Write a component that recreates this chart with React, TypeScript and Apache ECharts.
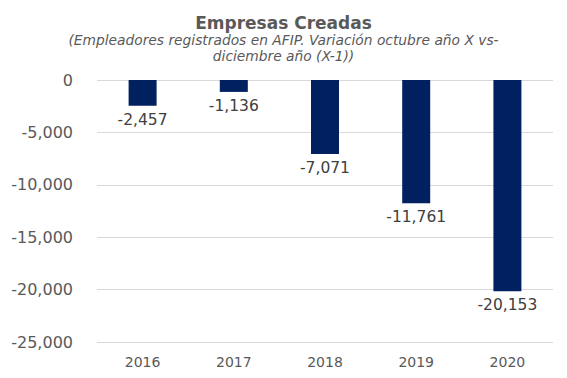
import React, { useEffect, useRef } from "react";
import * as echarts from "echarts";

const categories = ["2016", "2017", "2018", "2019", "2020"];
const values = [-2457, -1136, -7071, -11761, -20153];
const titleText = "Empresas Creadas";
const subtitleText = "(Empleadores registrados en AFIP. Variación octubre año X vs-\ndiciembre año (X-1))";

const fmt = (v: number) => v.toLocaleString("en-US");

export default function App() {
  const ref = useRef<HTMLDivElement>(null);
  useEffect(() => {
    if (!ref.current) return;
    const chart = echarts.init(ref.current, null, { renderer: "svg" });
    const font = "'DejaVu Sans', sans-serif";
    chart.setOption({
      animation: false,
      backgroundColor: "#ffffff",
      title: {
        text: titleText,
        subtext: subtitleText,
        left: "center",
        top: 9,
        itemGap: 1,
        textStyle: { fontFamily: font, fontSize: 17, fontWeight: "bold", color: "#595959" },
        subtextStyle: { fontFamily: font, fontSize: 13.8, fontStyle: "italic", color: "#595959", lineHeight: 16 },
      },
      grid: { left: 97, right: 14, top: 80, bottom: 36 },
      xAxis: {
        type: "category",
        data: categories,
        position: "bottom",
        axisLine: { show: false },
        axisTick: { show: false },
        axisLabel: { fontFamily: font, fontSize: 14, color: "#595959", margin: 13 },
      },
      yAxis: {
        type: "value",
        min: -25000,
        max: 0,
        interval: 5000,
        axisLine: { show: false },
        axisTick: { show: false },
        splitLine: { lineStyle: { color: "#d9d9d9", width: 1 } },
        axisLabel: {
          fontFamily: font,
          fontSize: 16,
          color: "#595959",
          margin: 24,
          formatter: (v: number) => fmt(v),
        },
      },
      series: [
        {
          type: "bar",
          data: values,
          barWidth: 28,
          itemStyle: { color: "#002060" },
          label: {
            show: true,
            position: "bottom",
            distance: 6,
            fontFamily: font,
            fontSize: 15.5,
            color: "#404040",
            formatter: (p: any) => fmt(p.value),
          },
        },
      ],
    });
    return () => chart.dispose();
  }, []);
  return (
    <div
      ref={ref}
      style={{ position: "fixed", left: 0, top: 0, width: 567, height: 378 }}
    />
  );
}
